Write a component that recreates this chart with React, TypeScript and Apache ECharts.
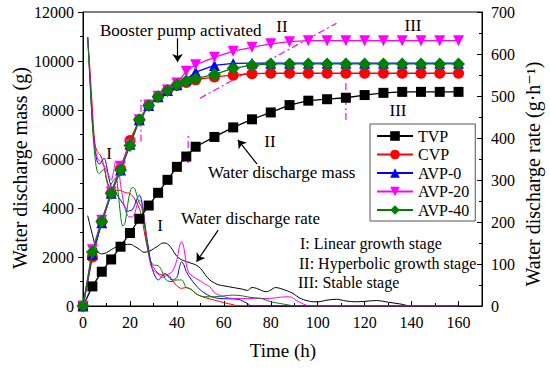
import React, { useEffect, useRef } from "react";
import * as echarts from "echarts";

const FONT = "'Liberation Serif', 'DejaVu Serif', serif";

const seriesNames = ["TVP", "CVP", "AVP-0", "AVP-20", "AVP-40"];
const colors = ["#000000", "#ff0000", "#0000ff", "#ff00ff", "#008000"];

const xTicks = [0, 20, 40, 60, 80, 100, 120, 140, 160];
const leftTicks = [0, 2000, 4000, 6000, 8000, 10000, 12000];
const rightTicks = [0, 100, 200, 300, 400, 500, 600, 700];

// cumulative water discharge mass (g)
const massTimes = [0, 4, 8, 12, 16, 20, 24, 28, 32, 36, 40, 44, 48, 56, 64, 72, 80, 88, 96, 104, 112, 120, 128, 136, 144, 152, 160];
const tvpMass = [0, 800, 1400, 1900, 2420, 2980, 3560, 4100, 4620, 5150, 5680, 6100, 6500, 6900, 7290, 7620, 7900, 8200, 8380, 8440, 8500, 8610, 8700, 8740, 8740, 8740, 8740];
const cvpMass = [0, 2000, 3450, 4600, 5600, 6750, 7600, 8180, 8540, 8800, 9000, 9120, 9230, 9350, 9420, 9480, 9500, 9500, 9500, 9500, 9500, 9500, 9500, 9500, 9500, 9500, 9500];
const avp0Mass = [0, 2100, 3400, 4600, 5550, 6600, 7600, 8180, 8540, 8800, 9030, 9250, 9550, 9820, 9900, 9910, 9910, 9910, 9910, 9910, 9910, 9910, 9910, 9910, 9910, 9910, 9910];
const avp20Mass = [0, 2300, 3500, 4650, 5700, 6600, 7600, 8200, 8560, 8820, 9100, 9580, 9850, 10150, 10400, 10560, 10700, 10790, 10830, 10830, 10830, 10830, 10830, 10830, 10830, 10830, 10830];
const avp40Mass = [0, 2200, 3450, 4600, 5550, 6550, 7600, 8180, 8540, 8800, 9020, 9180, 9280, 9450, 9700, 9830, 9880, 9880, 9880, 9880, 9880, 9880, 9880, 9880, 9880, 9880, 9880];

// water discharge rate (g/h)
const tvpRateT = [2, 4, 6, 8, 10, 12, 14, 16, 18, 20, 22, 24, 26, 28, 30, 32, 34, 36, 38, 40, 42, 44, 46, 48, 50, 52, 54, 56, 58, 60, 62, 64, 66, 68, 70, 72, 74, 76, 78, 80, 82, 84, 86, 88, 90, 92, 94, 96, 98, 100, 104, 108, 112, 116, 120, 125, 130, 135, 140, 150, 160];
const tvpRate = [215, 170, 132, 124, 127, 134, 140, 143, 146, 147, 142, 135, 128, 130, 136, 143, 150, 148, 135, 118, 110, 106, 102, 98, 90, 75, 62, 55, 50, 48, 46, 44, 42, 40, 37, 44, 42, 37, 34, 38, 44, 42, 38, 34, 28, 20, 15, 12, 10, 10, 14, 16, 12, 10, 11, 13, 9, 5, 0, 0, 0];

const cvpRateT = [2, 3, 4, 5, 6, 7, 8, 9, 10, 11, 12, 13, 14, 16, 18, 20, 22, 24, 25, 26, 27, 28, 29, 30, 32, 34, 36, 38, 40, 42, 44, 46, 48, 50, 52, 56, 60, 64, 66, 160];
const cvpRate = [640, 560, 470, 390, 368, 362, 352, 330, 305, 285, 272, 278, 276, 275, 270, 268, 255, 232, 212, 180, 150, 125, 102, 92, 78, 74, 74, 62, 48, 42, 44, 40, 30, 24, 20, 14, 8, 3, 0, 0];

const avp0RateT = [2, 3, 4, 5, 6, 7, 8, 9, 10, 11, 12, 13, 14, 16, 18, 19, 20, 21, 22, 23, 24, 25, 26, 27, 28, 29, 30, 31, 32, 33, 34, 35, 36, 38, 40, 41, 42, 43, 44, 46, 48, 50, 52, 54, 56, 58, 62, 66, 70, 72, 160];
const avp0Rate = [640, 540, 440, 380, 345, 338, 345, 352, 335, 305, 285, 276, 268, 252, 235, 225, 227, 229, 240, 255, 264, 250, 212, 170, 135, 100, 80, 68, 62, 66, 74, 78, 72, 62, 68, 90, 105, 98, 82, 64, 50, 38, 30, 24, 20, 18, 17, 16, 6, 0, 0];

const avp20RateT = [2, 3, 4, 5, 6, 7, 8, 9, 10, 11, 12, 13, 14, 15, 16, 17, 18, 19, 20, 21, 22, 23, 24, 25, 26, 27, 28, 29, 30, 32, 34, 36, 38, 40, 41, 42, 43, 44, 45, 46, 48, 50, 52, 54, 56, 58, 60, 64, 70, 76, 80, 84, 88, 91, 95, 98, 160];
const avp20Rate = [640, 540, 440, 380, 355, 345, 340, 335, 322, 310, 300, 320, 345, 330, 290, 255, 230, 215, 212, 213, 220, 240, 252, 245, 210, 160, 120, 95, 85, 76, 68, 75, 82, 110, 140, 153, 138, 100, 80, 74, 66, 60, 52, 46, 32, 26, 22, 18, 18, 18, 18, 21, 22, 13, 2, 0, 0];

const avp40RateT = [2, 3, 4, 5, 6, 7, 8, 9, 10, 11, 12, 13, 14, 15, 16, 17, 18, 19, 20, 21, 22, 23, 24, 25, 26, 27, 28, 29, 30, 31, 32, 33, 34, 35, 36, 38, 40, 42, 44, 46, 48, 50, 52, 56, 60, 64, 68, 72, 76, 80, 84, 88, 90, 160];
const avp40Rate = [640, 530, 430, 360, 322, 315, 322, 325, 300, 285, 290, 300, 305, 270, 215, 190, 200, 240, 270, 282, 280, 262, 245, 236, 200, 157, 125, 105, 98, 97, 96, 90, 78, 65, 60, 58, 62, 62, 44, 40, 30, 24, 22, 22, 24, 26, 24, 20, 18, 10, 6, 2, 0, 0];

// annotation guide lines (time, mass)
const guideLines = [
  [[24.7, 6700], [24.7, 8540]],
  [[44.8, 5840], [44.8, 7050]],
  [[112, 7590], [112, 9220]],
  [[49.8, 8480], [108, 11540]],
];
// arrows (time, mass) : from -> to
const arrows = [
  [[40.3, 10930], [40.3, 9960]],
  [[74.2, 5790], [66.0, 6780]],
  [[57.6, 3100], [48.4, 1810]],
];

const zip = (t: number[], v: number[]) => t.map((x, i) => [x, v[i]]);

export default function App() {
  const ref = useRef<HTMLDivElement>(null);
  useEffect(() => {
    document.body.style.margin = "0";
    const chart = echarts.init(ref.current!, null, { renderer: "svg" });
    const massData = [tvpMass, cvpMass, avp0Mass, avp20Mass, avp40Mass];
    const rateData = [
      zip(tvpRateT, tvpRate),
      zip(cvpRateT, cvpRate),
      zip(avp0RateT, avp0Rate),
      zip(avp20RateT, avp20Rate),
      zip(avp40RateT, avp40Rate),
    ];
    const symbols = ["rect", "circle", "triangle", "triangle", "diamond"];
    const symbolSizes = [10, 11, 11, 11, 13];
    const symbolRot = [0, 0, 0, 180, 0];

    const rateSeries = rateData.map((d, i) => ({
      name: seriesNames[i] + " rate",
      type: "line",
      yAxisIndex: 1,
      data: d,
      smooth: 0.35,
      showSymbol: false,
      symbol: "none",
      lineStyle: { color: colors[i], width: 1 },
      z: 2,
    }));
    const massSeries = massData.map((m, i) => ({
      name: seriesNames[i],
      type: "line",
      yAxisIndex: 0,
      data: zip(massTimes, m),
      symbol: symbols[i],
      symbolSize: symbolSizes[i],
      symbolRotate: symbolRot[i],
      itemStyle: { color: colors[i] },
      lineStyle: { color: colors[i], width: 1.3 },
      z: 5 + (i === 4 ? 1 : 0),
    }));
    const guideSeries = guideLines.map((g, i) => ({
      name: "guide" + i,
      type: "line",
      data: g,
      symbol: "none",
      lineStyle: { color: "#ff00ff", width: 1.2, type: [7, 3, 2, 3] },
      z: 4,
    }));
    const arrowSeries = {
      name: "arrows",
      type: "lines",
      coordinateSystem: "cartesian2d",
      xAxisIndex: 0,
      yAxisIndex: 0,
      symbol: ["none", "arrow"],
      symbolSize: 8,
      lineStyle: { color: "#000", width: 1.2, opacity: 1 },
      data: arrows.map((a) => ({ coords: a })),
      z: 7,
    };

    const txt = (text: string, x: number, y: number, size = 17, align = "left", rotation = 0) => ({
      type: "text",
      x,
      y,
      rotation,
      z: 100,
      style: {
        text,
        x: 0,
        y: 0,
        fill: "#000",
        fontSize: size,
        fontFamily: FONT,
        textAlign: align,
        textVerticalAlign: "middle",
      },
    });

    chart.setOption({
      animation: false,
      grid: { left: 83, right: 68, top: 12, bottom: 64, show: true, borderColor: "#000", borderWidth: 1 },
      xAxis: {
        type: "value",
        min: 0,
        max: 170,
        interval: 20,
        axisLine: { lineStyle: { color: "#000", width: 1 } },
        axisTick: { inside: true, length: 5, lineStyle: { color: "#000" } },
        minorTick: { show: true, splitNumber: 2, length: 3, lineStyle: { color: "#000" } },
        splitLine: { show: false },
        axisLabel: {
          color: "#000",
          fontSize: 16,
          fontFamily: FONT,
          margin: 8,
          showMaxLabel: false,
          formatter: (v: number) => (xTicks.includes(v) ? String(v) : ""),
        },
      },
      yAxis: [
        {
          type: "value",
          min: 0,
          max: 12000,
          interval: 2000,
          position: "left",
          axisLine: { show: true, lineStyle: { color: "#000", width: 1 } },
          axisTick: { show: true, inside: false, length: 5, lineStyle: { color: "#000" } },
          minorTick: { show: true, splitNumber: 2, length: 3, lineStyle: { color: "#000" } },
          splitLine: { show: false },
          axisLabel: {
            color: "#000",
            fontSize: 16,
            fontFamily: FONT,
            margin: 9,
            formatter: (v: number) => (leftTicks.includes(v) ? String(v) : ""),
          },
        },
        {
          type: "value",
          min: 0,
          max: 700,
          interval: 100,
          position: "right",
          axisLine: { show: true, lineStyle: { color: "#000", width: 1 } },
          axisTick: { show: true, inside: true, length: 5, lineStyle: { color: "#000" } },
          minorTick: { show: true, splitNumber: 2, length: 3, lineStyle: { color: "#000" } },
          splitLine: { show: false },
          axisLabel: {
            color: "#000",
            fontSize: 16,
            fontFamily: FONT,
            margin: 9,
            formatter: (v: number) => (rightTicks.includes(v) ? String(v) : ""),
          },
        },
      ],
      legend: {
        data: seriesNames,
        orient: "vertical",
        left: 370,
        top: 124,
        itemWidth: 36,
        itemHeight: 12,
        itemGap: 2.5,
        padding: [4, 6, 3, 6],
        borderColor: "#555",
        borderWidth: 1,
        backgroundColor: "#fff",
        selectedMode: false,
        textStyle: { color: "#000", fontSize: 16, fontFamily: FONT },
      },
      graphic: [
        txt("Booster pump activated", 100, 30, 17),
        txt("I", 109, 153, 17, "center"),
        txt("II", 282, 26, 17, "center"),
        txt("III", 413, 25, 17, "center"),
        txt("II", 270, 141, 17, "center"),
        txt("III", 398, 110, 17, "center"),
        txt("I", 160, 225, 17, "center"),
        txt("Water discharge mass", 208, 172, 17),
        txt("Water discharge rate", 181, 218, 17),
        txt("I: Linear growth stage", 300, 243, 16),
        txt("II: Hyperbolic growth stage", 299, 263, 16),
        txt("III: Stable stage", 298, 282, 16),
        txt("Water discharge mass (g)", 20, 168, 20, "center", Math.PI / 2),
        txt("Water discharge rate (g\u00b7h\u207b\u00b9)", 533, 174, 20, "center", Math.PI / 2),
        txt("Time (h)", 283, 350, 19, "center"),
      ],
      series: [...rateSeries, ...guideSeries, ...massSeries, arrowSeries],
    });
    return () => chart.dispose();
  }, []);
  return <div ref={ref} style={{ width: 550, height: 370 }} />;
}
